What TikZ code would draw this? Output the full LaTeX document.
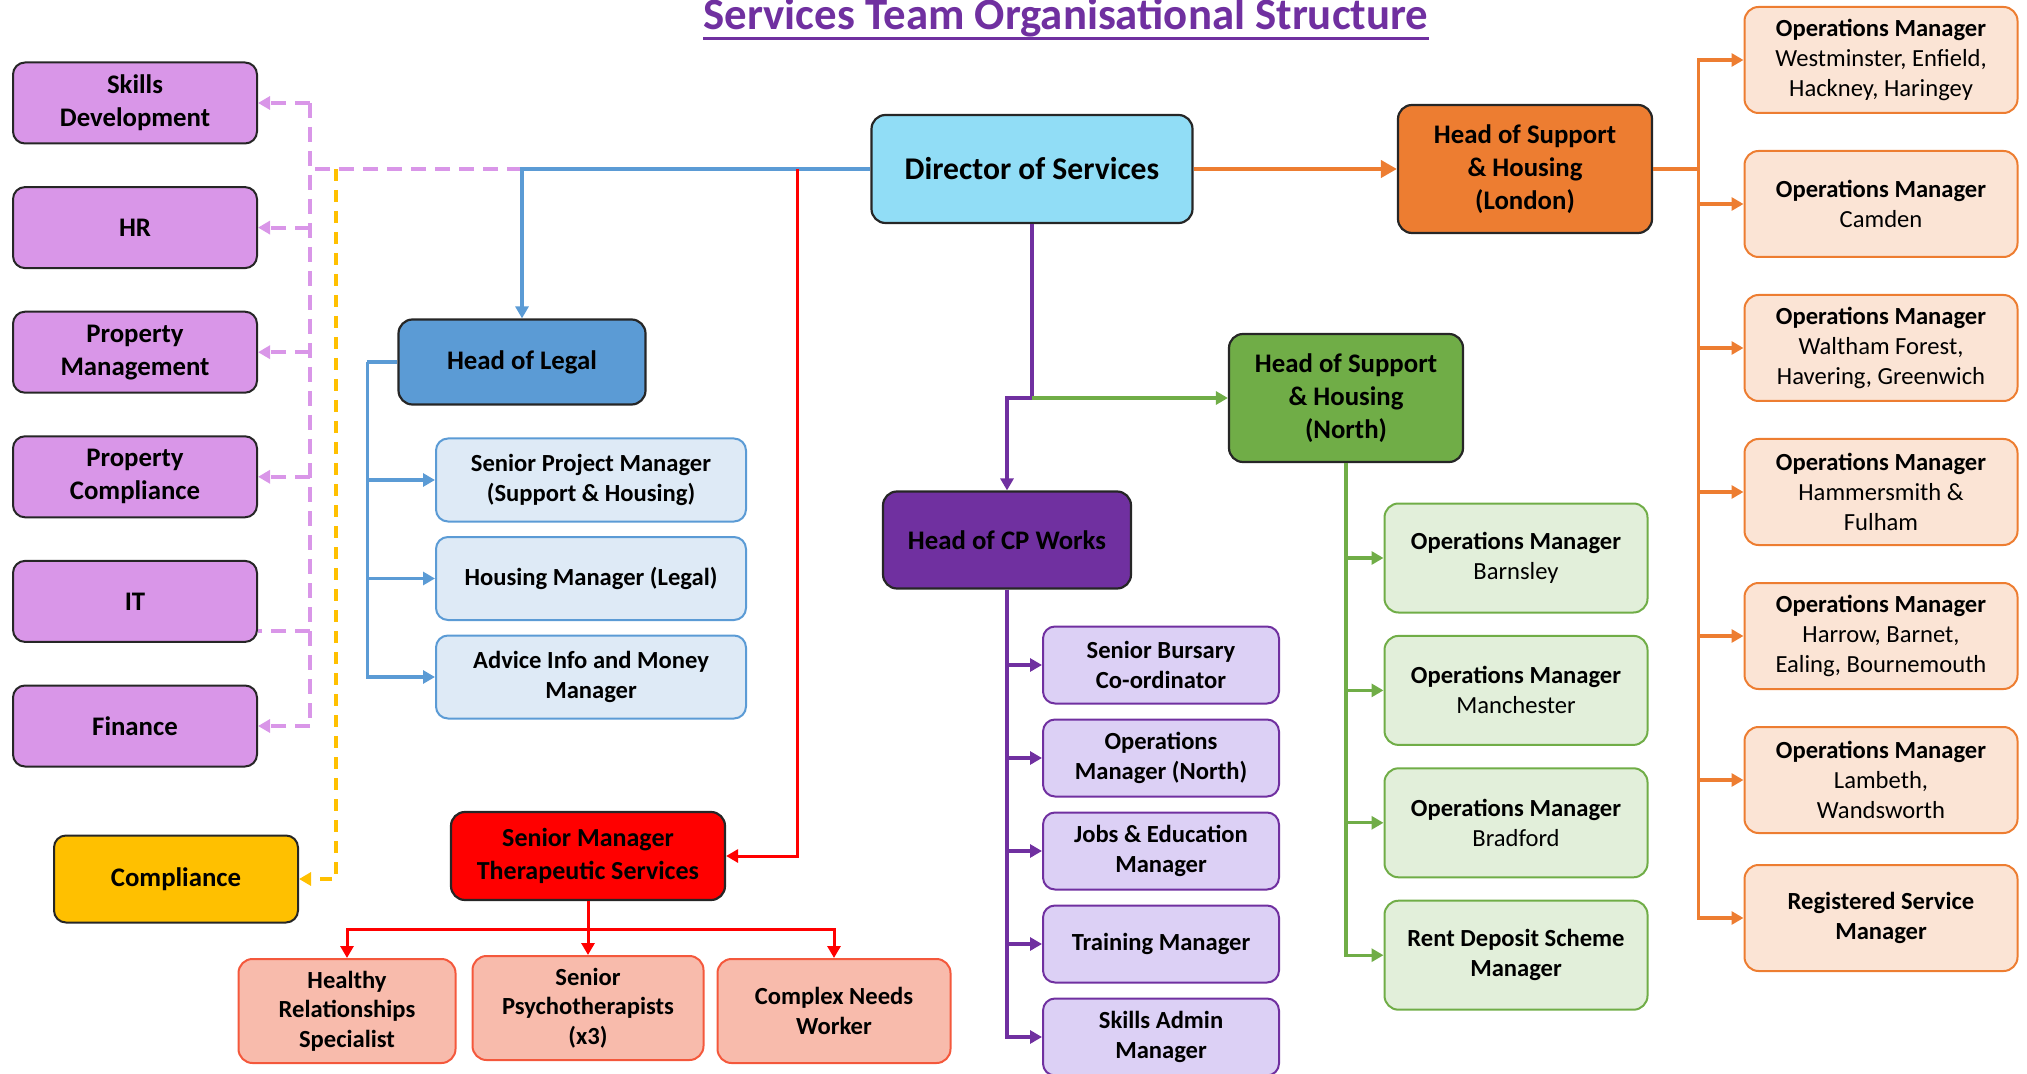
\documentclass[tikz,border=0pt]{standalone}
\usepackage{fontspec}
\setmainfont{Carlito}
\usepackage{tikz}
\usetikzlibrary{arrows.meta}
\usetikzlibrary{positioning,calc}

\definecolor{sidePink}{RGB}{217,150,232}
\definecolor{compYellow}{RGB}{255,192,0}
\definecolor{dirBlue}{RGB}{145,221,246}
\definecolor{legalBlue}{RGB}{91,155,213}
\definecolor{legalLight}{RGB}{222,234,246}
\definecolor{cpPurple}{RGB}{112,48,160}
\definecolor{cpLight}{RGB}{220,208,245}
\definecolor{northGreen}{RGB}{112,173,71}
\definecolor{northLight}{RGB}{226,239,218}
\definecolor{londonOrange}{RGB}{237,125,49}
\definecolor{londonLight}{RGB}{251,228,213}
\definecolor{tsRed}{RGB}{255,0,0}
\definecolor{tsLight}{RGB}{248,187,172}
\definecolor{tsBorder}{RGB}{244,88,60}
\definecolor{boxBorder}{RGB}{38,38,38}

\begin{document}
\begin{tikzpicture}[x=0.5pt, y=-0.5pt, >={Triangle[length=6pt,width=6.5pt]}]
	%defines
	\tikzstyle{titleText} = [anchor=base, inner sep=0pt, text=cpPurple, font=\fontsize{22.4}{26}\selectfont\bfseries]
	\tikzstyle{sideBox} = [rectangle, rounded corners=6pt, minimum width=122pt, minimum height=40.5pt, text centered, align=center, draw=boxBorder, line width=1pt, fill=sidePink, font=\fontsize{13.4}{16.4}\selectfont\bfseries, node distance=62.3pt]
	\tikzstyle{headBox} = [rectangle, rounded corners=7pt, text centered, align=center, draw=boxBorder, line width=1.1pt, font=\fontsize{13.4}{16.4}\selectfont\bfseries]
	\tikzstyle{legalChild} = [rectangle, rounded corners=6pt, minimum width=155pt, minimum height=41.5pt, text centered, align=center, draw=legalBlue, line width=1pt, fill=legalLight, font=\fontsize{12.3}{15}\selectfont\bfseries, node distance=49.25pt]
	\tikzstyle{cpChild} = [rectangle, rounded corners=6pt, minimum width=118pt, minimum height=38.5pt, text centered, align=center, draw=cpPurple, line width=1pt, fill=cpLight, font=\fontsize{12.3}{15}\selectfont\bfseries, node distance=46.5pt]
	\tikzstyle{northChild} = [rectangle, rounded corners=7pt, minimum width=131.5pt, minimum height=54.5pt, text centered, align=center, draw=northGreen, line width=1pt, fill=northLight, font=\fontsize{12.3}{15}\selectfont, node distance=66.2pt]
	\tikzstyle{londonChild} = [rectangle, rounded corners=7pt, minimum width=136.5pt, minimum height=53pt, text centered, align=center, draw=londonOrange, line width=1pt, fill=londonLight, font=\fontsize{12.3}{15}\selectfont, node distance=72pt]
	\tikzstyle{tsChild} = [rectangle, rounded corners=7pt, minimum height=52pt, text centered, align=center, draw=tsBorder, line width=1pt, fill=tsLight, font=\fontsize{12.3}{14.7}\selectfont\bfseries]
	\tikzstyle{boldText} = [font=\fontsize{12.3}{15}\selectfont\bfseries]
	\tikzstyle{blueLink} = [draw=legalBlue, line width=1.6pt]
	\tikzstyle{redLink} = [draw=tsRed, line width=1.5pt]
	\tikzstyle{purpleLink} = [draw=cpPurple, line width=1.6pt]
	\tikzstyle{greenLink} = [draw=northGreen, line width=1.6pt]
	\tikzstyle{orangeLink} = [draw=londonOrange, line width=1.6pt]
	\tikzstyle{pinkDash} = [draw=sidePink, line width=2pt, dash pattern=on 7.5pt off 4.5pt]
	\tikzstyle{yellowDash} = [draw=compYellow, line width=1.6pt, dash pattern=on 6pt off 4.5pt]
	\useasboundingbox (0,0) rectangle (2027,1074);
	%chart
	\node (title) [titleText] at (1066,30) {Services Team Organisational Structure};
	\draw [cpPurple, line width=1.5pt] ($(title.base west)+(0,9)$) -- ($(title.base east)+(0,9)$);
	\node (director) [headBox, fill=dirBlue, minimum width=160.5pt, minimum height=54pt, font=\fontsize{15.8}{19}\selectfont\bfseries] at (1032,169) {Director of Services};
	\node (london) [headBox, fill=londonOrange, minimum width=127pt, minimum height=64pt] at (1525,169) {Head of Support\\\& Housing\\(London)};
	\node (north) [headBox, fill=northGreen, minimum width=117pt, minimum height=64pt] at (1346,398) {Head of Support\\\& Housing\\(North)};
	\node (legal) [headBox, fill=legalBlue, minimum width=123.5pt, minimum height=42.5pt] at (522,362) {Head of Legal};
	\node (cpworks) [headBox, fill=cpPurple, minimum width=124pt, minimum height=48.5pt] at (1007,540) {Head of CP Works};
	\node (therapy) [headBox, fill=tsRed, minimum width=137pt, minimum height=44pt, font=\fontsize{13}{16.2}\selectfont\bfseries] at (588,856) {Senior Manager\\Therapeutic Services};
	% support teams
	\node (skills) [sideBox] at (135,103) {Skills\\Development};
	\node (hr) [sideBox, below of=skills] {HR};
	\node (propMgmt) [sideBox, below of=hr] {Property\\Management};
	\node (propComp) [sideBox, below of=propMgmt] {Property\\Compliance};
	\node (it) [sideBox, below of=propComp] {IT};
	\node (finance) [sideBox, below of=it] {Finance};
	\node (compliance) [sideBox, fill=compYellow, minimum height=43.5pt] at (176,879) {Compliance};
	% legal
	\node (seniorPM) [legalChild] at (591,480) {Senior Project Manager\\(Support \& Housing)};
	\node (housingMgr) [legalChild, below of=seniorPM] {Housing Manager (Legal)};
	\node (adviceMgr) [legalChild, below of=housingMgr] {Advice Info and Money\\Manager};
	% cp works
	\node (bursary) [cpChild] at (1161,665) {Senior Bursary\\Co-ordinator};
	\node (opsNorth) [cpChild, below of=bursary] {Operations\\Manager (North)};
	\node (jobsEdu) [cpChild, below of=opsNorth] {Jobs \& Education\\Manager};
	\node (training) [cpChild, below of=jobsEdu] {Training Manager};
	\node (skillsAdmin) [cpChild, below of=training] {Skills Admin\\Manager};
	% north
	\node (barnsley) [northChild] at (1516,558) {\textbf{Operations Manager}\\Barnsley};
	\node (manchester) [northChild, below of=barnsley] {\textbf{Operations Manager}\\Manchester};
	\node (bradford) [northChild, below of=manchester] {\textbf{Operations Manager}\\Bradford};
	\node (rentDeposit) [northChild, boldText, below of=bradford] {Rent Deposit Scheme\\Manager};
	% london
	\node (westminster) [londonChild] at (1881,60) {\textbf{Operations Manager}\\Westminster, Enfield,\\Hackney, Haringey};
	\node (camden) [londonChild, below of=westminster] {\textbf{Operations Manager}\\Camden};
	\node (waltham) [londonChild, below of=camden] {\textbf{Operations Manager}\\Waltham Forest,\\Havering, Greenwich};
	\node (hammersmith) [londonChild, below of=waltham] {\textbf{Operations Manager}\\Hammersmith \&\\Fulham};
	\node (harrow) [londonChild, below of=hammersmith] {\textbf{Operations Manager}\\Harrow, Barnet,\\Ealing, Bournemouth};
	\node (lambeth) [londonChild, below of=harrow] {\textbf{Operations Manager}\\Lambeth,\\Wandsworth};
	\node (registered) [londonChild, boldText, below of=lambeth, node distance=69pt] {Registered Service\\Manager};
	% therapeutic
	\node (healthy) [tsChild, minimum width=108.5pt] at (347,1011) {Healthy\\Relationships\\Specialist};
	\node (psycho) [tsChild, minimum width=115.5pt] at (588,1008) {Senior\\Psychotherapists\\(x3)};
	\node (complexNeeds) [tsChild, minimum width=116.5pt] at (834,1011) {Complex Needs\\Worker};
	%links
	\coordinate (legalSplit) at (legal.north |- director.west);
	\coordinate (pinkBus) at (310,169);
	\coordinate (yellowBus) at (336,169);
	\coordinate (redTop) at (797,169);
	\draw [pinkDash] (legalSplit) -- (pinkBus);
	\draw [pinkDash] (pinkBus |- skills.east) -- (pinkBus |- finance.east);
	\draw [pinkDash, ->] (pinkBus |- skills.east) -- (skills.east);
	\draw [pinkDash, ->] (pinkBus |- hr.east) -- (hr.east);
	\draw [pinkDash, ->] (pinkBus |- propMgmt.east) -- (propMgmt.east);
	\draw [pinkDash, ->] (pinkBus |- propComp.east) -- (propComp.east);
	\coordinate (itLink) at ($(it.south east)+(0,-12)$);
	\draw [pinkDash] (pinkBus |- itLink) -- (itLink);
	\draw [pinkDash, ->] (pinkBus |- finance.east) -- (finance.east);
	\draw [yellowDash, ->] (yellowBus) |- (compliance.east);
	\draw [blueLink, ->] (director.west) -| (legal.north);
	\draw [redLink, ->] (redTop) |- (therapy.east);
	\draw [orangeLink, line width=2pt, >={Triangle[length=8pt,width=8.5pt]}, ->] (director) -- (london);
	\coordinate (northSplit) at (director.south |- north.west);
	\draw [purpleLink, ->] (director.south) -- (northSplit) -| (cpworks.north);
	\draw [greenLink, ->] (northSplit) -- (north.west);
	% legal links
	\coordinate (legalBus) at ($(legal.west)+(-30,0)$);
	\draw [blueLink] (legal.west) -- (legalBus);
	\draw [blueLink, ->] (legalBus) |- (seniorPM.west);
	\draw [blueLink, ->] (legalBus) |- (housingMgr.west);
	\draw [blueLink, ->] (legalBus) |- (adviceMgr.west);
	% therapeutic links
	\coordinate (redBus) at ($(therapy.south)+(0,28)$);
	\draw [redLink, ->] (therapy.south) -- (psycho.north);
	\draw [redLink, ->] (redBus) -| (healthy.north);
	\draw [redLink, ->] (redBus) -| (complexNeeds.north);
	% cp works links
	\draw [purpleLink, ->] (cpworks.south) |- (bursary.west);
	\draw [purpleLink, ->] (cpworks.south) |- (opsNorth.west);
	\draw [purpleLink, ->] (cpworks.south) |- (jobsEdu.west);
	\draw [purpleLink, ->] (cpworks.south) |- (training.west);
	\draw [purpleLink, ->] (cpworks.south) |- (skillsAdmin.west);
	% north links
	\draw [greenLink, ->] (north.south) |- (barnsley.west);
	\draw [greenLink, ->] (north.south) |- (manchester.west);
	\draw [greenLink, ->] (north.south) |- (bradford.west);
	\draw [greenLink, ->] (north.south) |- (rentDeposit.west);
	% london links
	\coordinate (londonBus) at ($(london.east)+(45,0)$);
	\draw [orangeLink] (london.east) -- (londonBus);
	\draw [orangeLink, ->] (londonBus) |- (westminster.west);
	\draw [orangeLink, ->] (londonBus) |- (camden.west);
	\draw [orangeLink, ->] (londonBus) |- (waltham.west);
	\draw [orangeLink, ->] (londonBus) |- (hammersmith.west);
	\draw [orangeLink, ->] (londonBus) |- (harrow.west);
	\draw [orangeLink, ->] (londonBus) |- (lambeth.west);
	\draw [orangeLink, ->] (londonBus) |- (registered.west);
\end{tikzpicture}
\end{document}
